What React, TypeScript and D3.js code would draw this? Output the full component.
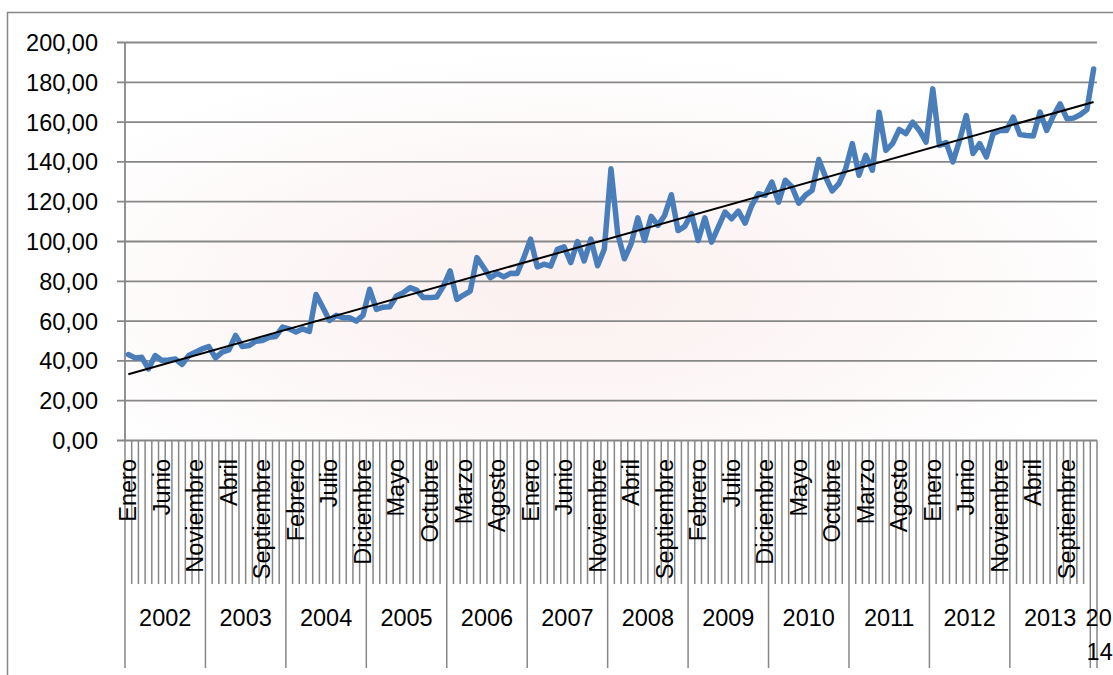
import React from 'react';
import * as d3 from 'd3';

const monthNames = ['Enero', 'Febrero', 'Marzo', 'Abril', 'Mayo', 'Junio', 'Julio', 'Agosto', 'Septiembre', 'Octubre', 'Noviembre', 'Diciembre'];
const yearLabels = ['2002', '2003', '2004', '2005', '2006', '2007', '2008', '2009', '2010', '2011', '2012', '2013', '2014'];

const v2002 = [43.2, 41.5, 41.8, 36.0, 42.7, 40.2, 40.5, 41.0, 38.2, 42.7, 44.4, 46.0];
const v2003 = [47.2, 41.5, 44.4, 45.5, 52.8, 47.2, 47.7, 49.9, 50.3, 51.9, 52.3, 57.0];
const v2004 = [56.1, 54.5, 56.1, 54.8, 73.4, 67.0, 60.3, 62.9, 61.7, 61.7, 60.0, 62.9];
const v2005 = [76.0, 65.9, 67.0, 67.2, 72.6, 74.3, 76.8, 75.6, 71.8, 71.8, 72.1, 77.6];
const v2006 = [85.2, 70.9, 73.1, 75.1, 91.9, 86.9, 81.8, 84.0, 82.2, 84.0, 83.9, 91.9];
const v2007 = [101.2, 87.2, 88.6, 87.6, 96.1, 97.3, 89.4, 100.0, 90.2, 101.2, 87.8, 96.1];
const v2008 = [136.6, 103.9, 91.3, 98.8, 111.9, 100.5, 112.6, 108.1, 113.1, 123.5, 105.5, 107.6];
const v2009 = [114.0, 100.5, 111.9, 99.7, 107.2, 114.8, 111.4, 115.3, 109.2, 118.2, 124.0, 123.2];
const v2010 = [129.9, 119.8, 130.8, 127.4, 119.3, 123.2, 125.7, 141.2, 132.4, 125.4, 129.1, 136.5];
const v2011 = [149.2, 133.3, 143.3, 135.8, 165.0, 145.8, 149.2, 156.3, 154.2, 160.0, 155.8, 150.0];
const v2012 = [176.7, 148.3, 149.7, 140.0, 150.8, 163.3, 144.2, 149.2, 142.5, 154.2, 155.8, 155.8];
const v2013 = [162.5, 153.7, 153.3, 153.0, 165.0, 155.8, 163.3, 169.2, 161.7, 162.0, 163.7, 166.3];
const v2014 = [186.7];

const values = [...v2002, ...v2003, ...v2004, ...v2005, ...v2006, ...v2007, ...v2008, ...v2009, ...v2010, ...v2011, ...v2012, ...v2013, ...v2014];
const yTicks = [0, 20, 40, 60, 80, 100, 120, 140, 160, 180, 200];

const FONT = '"Liberation Sans", Arial, sans-serif';
const GRID = '#878787';

export default function App() {
  const n = values.length;
  const x = d3.scaleBand<number>().domain(d3.range(n)).range([125, 1097]).padding(0);
  const bw = x.bandwidth();
  const cx = (i: number) => (x(i) as number) + bw / 2;
  const y = d3.scaleLinear().domain([0, 200]).range([440.5, 42.5]);

  const line = d3.line<number>().x((_, i) => cx(i)).y((d) => y(d));

  // least squares trend line
  const idx = d3.range(n);
  const mx = d3.mean(idx) as number;
  const my = d3.mean(values) as number;
  const slope = d3.sum(idx, (i) => (i - mx) * (values[i] - my)) / d3.sum(idx, (i) => (i - mx) * (i - mx));
  const intercept = my - slope * mx;
  const trend = [0, n - 1].map((i) => [cx(i), y(intercept + slope * i)] as [number, number]);

  const boundaries = d3.range(n + 1);
  const fmt = (v: number) => v.toFixed(2).replace('.', ',');

  return (
    <svg width={1113} height={675} style={{ position: 'absolute', left: 0, top: 0, background: '#fff' }}>
      <defs>
        <radialGradient id="bg" cx="0.45" cy="0.62" r="0.6">
          <stop offset="0" stopColor="#fcf0f0" />
          <stop offset="0.6" stopColor="#fdf8f8" />
          <stop offset="1" stopColor="#ffffff" />
        </radialGradient>
      </defs>
      <rect x={7.5} y={12.5} width={1200} height={700} fill="#fff" stroke={GRID} strokeWidth={1.5} />
      <rect x={125} y={y(200)} width={972} height={y(0) - y(200)} fill="url(#bg)" />

      {yTicks.map((t) => (
        <g key={t}>
          <line x1={117} x2={1097} y1={y(t)} y2={y(t)} stroke={GRID} strokeWidth={1.8} />
          <text x={98} y={y(t)} dy="0.36em" textAnchor="end" fontFamily={FONT} fontSize={23.5} fill="#000">
            {fmt(t)}
          </text>
        </g>
      ))}
      <line x1={125} x2={125} y1={y(200)} y2={y(0)} stroke={GRID} strokeWidth={1.8} />

      {boundaries.map((j) => {
        const xx = 125 + j * bw;
        const major = j % 12 === 0 || j === n;
        return <line key={j} x1={xx} x2={xx} y1={y(0)} y2={major ? 668 : 584} stroke={GRID} strokeWidth={1.5} />;
      })}

      {idx.filter((i) => i % 5 === 0).map((i) => (
        <text
          key={i}
          transform={`translate(${cx(i)},459) rotate(-90)`}
          textAnchor="end"
          dominantBaseline="central"
          fontFamily={FONT}
          fontSize={23.5}
          fill="#000"
        >
          {monthNames[i % 12]}
        </text>
      ))}

      {yearLabels.map((yl, k) => {
        const start = k * 12;
        const end = Math.min(n, start + 12);
        const c = 125 + ((start + end) / 2) * bw;
        if (end - start < 12) {
          return (
            <text key={yl} fontFamily={FONT} fontSize={23.5} fill="#000" textAnchor="middle">
              <tspan x={c + 5} y={618} dy="0.36em">{yl.slice(0, 2)}</tspan>
              <tspan x={c + 6} y={652} dy="0.36em">{yl.slice(2)}</tspan>
            </text>
          );
        }
        return (
          <text key={yl} x={c} y={618} dy="0.36em" textAnchor="middle" fontFamily={FONT} fontSize={23.5} fill="#000">
            {yl}
          </text>
        );
      })}

      <path d={line(values) as string} fill="none" stroke="#4a7ebb" strokeWidth={5.5} strokeLinejoin="round" strokeLinecap="round" />
      <line x1={trend[0][0]} y1={trend[0][1]} x2={trend[1][0]} y2={trend[1][1]} stroke="#000" strokeWidth={2} />
    </svg>
  );
}
